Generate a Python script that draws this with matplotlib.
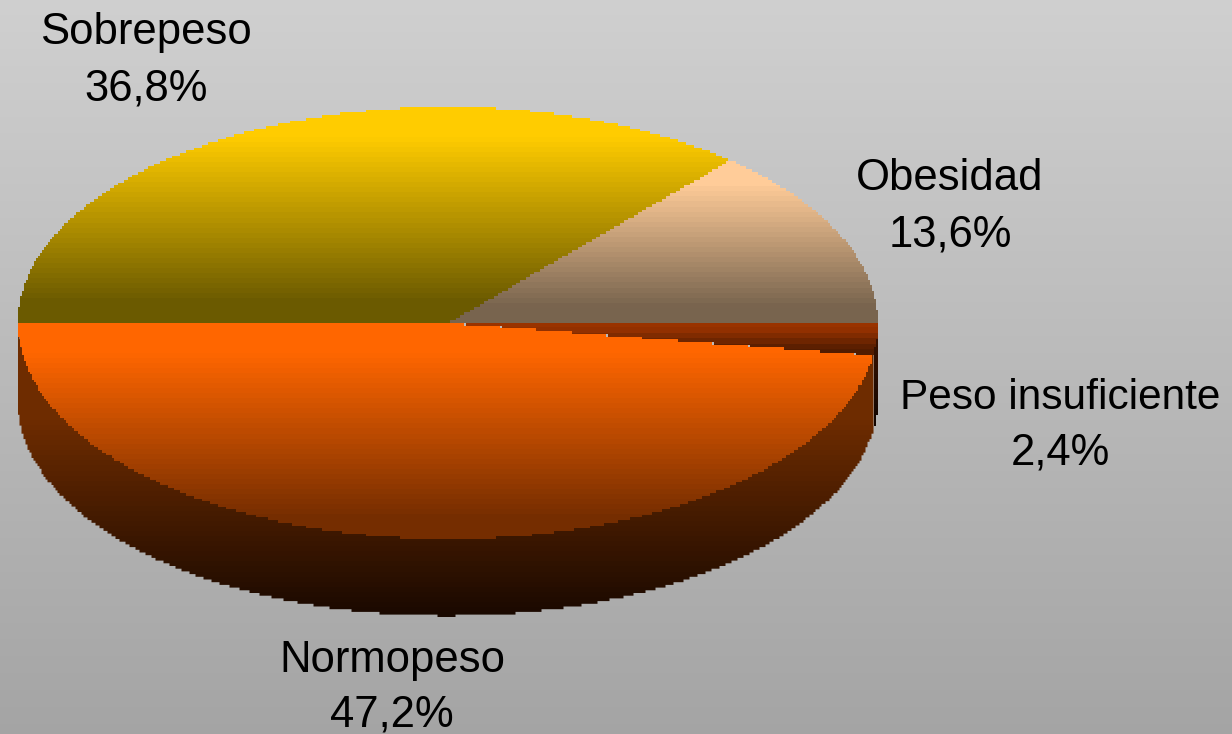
import numpy as np
import matplotlib
matplotlib.use('Agg')
import matplotlib.pyplot as plt
from matplotlib.patches import Wedge
from matplotlib.path import Path
from matplotlib.transforms import Affine2D
from matplotlib.colors import to_rgb

# chart values, in the order the slices go round from 3 o'clock
labels = ['Obesidad', 'Sobrepeso', 'Normopeso', 'Peso insuficiente']
values = [13.6, 36.8, 47.2, 2.4]
top_from = ['#ffcc99', '#ffcc00', '#ff6600', '#993300']
top_to = ['#78644e', '#6b5a00', '#752d00', '#521c00']

# label centre x, name baseline y, percent baseline y
label_pos = [(950, 190, 246), (146, 44, 100), (392, 672, 726), (1060, 409, 465)]
label_size = [31.4, 31.4, 31.4, 30.5]

# pie geometry in pixels
cx, cy = 447.5, 323
rx, ry = 430, 216
depth = 77

plt.rcParams['font.family'] = 'Liberation Sans'

fig = plt.figure(figsize=(12.32, 7.34), dpi=100)
ax = fig.add_axes([0, 0, 1, 1])
ax.set_axis_off()


def gradient(c1, c2, y0, y1, x0, x1, hold=0.13, span=0.78, band=5.0):
    n = max(2, int(round((y1 - y0) / band)))
    # the original holds its end colours for a while before it starts to fade
    t = np.clip((np.linspace(0, 1, n) - hold) / span, 0, 1)[:, None, None]
    img = np.array(to_rgb(c1))[None, None, :] * (1 - t) + np.array(to_rgb(c2))[None, None, :] * t
    return ax.imshow(img, extent=(x0, x1, y1, y0), aspect='auto', interpolation='nearest')


def stairs(pts, sx=2.0, sy=2.7):
    # chunky edge like the low resolution original
    out = []
    for a, b in zip(pts[:-1], pts[1:]):
        n = max(1, int(np.hypot(*(b - a))))
        for t in np.arange(n) / n:
            out.append(a + (b - a) * t)
    out = np.array(out)
    origin = np.array([cx, cy])
    out = origin + np.round((out - origin) / [sx, sy]) * [sx, sy]
    res = [out[0]]
    for p in out[1:]:
        if p[0] != res[-1][0] and p[1] != res[-1][1]:
            res.append(np.array([p[0], res[-1][1]]))
        if p[0] != res[-1][0] or p[1] != res[-1][1]:
            res.append(p)
    return np.array(res)


def wedge_points(t1, t2):
    path = Wedge((0, 0), 1, t1, t2).get_path()
    path = path.transformed(Affine2D().scale(rx, -ry).translate(cx, cy))
    return path.to_polygons()[0]


def arc_points(t1, t2):
    t = np.radians(np.linspace(t1, t2, 200))
    return np.column_stack([cx + rx * np.cos(t), cy - ry * np.sin(t)])


def fill(pts, c1, c2, **kw):
    im = gradient(c1, c2, pts[:, 1].min(), pts[:, 1].max(), pts[:, 0].min(), pts[:, 0].max(), **kw)
    closed = np.vstack([pts, pts[0]])
    im.set_clip_path(Path(closed), ax.transData)


ax.set_xlim(0, 1232)
ax.set_ylim(734, 0)

# background
bg = np.linspace(0.815, 0.645, 256)[:, None, None] * np.ones((256, 1, 3))
ax.imshow(bg, extent=(0, 1232, 734, 0), aspect='auto', interpolation='bilinear')

# slice angles come from the values
edges = 360 * np.cumsum([0] + values) / sum(values)
edges[2] = 180  # the original keeps this border level

# rim of the two front slices, started a little higher so no gap shows under the top
arc = arc_points(edges[2], edges[3])
low = arc + [0, depth]
fill(stairs(np.vstack([arc - [0, 8], low[::-1], arc[0] - [0, 8]])), '#6e2c00', '#1a0900', hold=0.35, span=0.65)
arc = arc_points(edges[3], edges[4])
low = arc + [0, depth]
fill(stairs(np.vstack([arc - [0, 8], low[::-1], arc[0] - [0, 8]])), '#3c1400', '#120500')

# top faces
for i in range(len(values)):
    pts = stairs(wedge_points(edges[i], edges[i + 1]))
    fill(pts, top_from[i], top_to[i])

ax.set_xlim(0, 1232)
ax.set_ylim(734, 0)

# labels
for name, val, (x, y1, y2), size in zip(labels, values, label_pos, label_size):
    pct = f'{val:.1f}%'.replace('.', ',')
    ax.text(x, y1, name, ha='center', va='baseline', fontsize=size, color='black')
    ax.text(x, y2, pct, ha='center', va='baseline', fontsize=31.4, color='black')

fig.savefig('out.png', dpi=100)
